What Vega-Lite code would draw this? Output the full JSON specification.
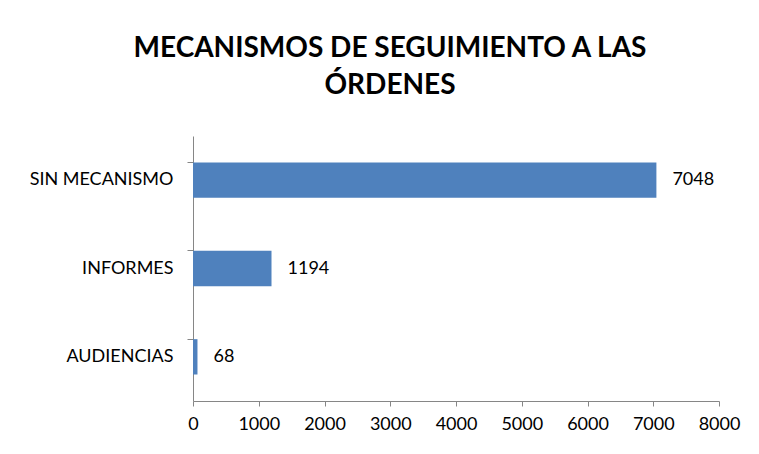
{
  "$schema": "https://vega.github.io/schema/vega-lite/v6.json",
  "autosize": "none",
  "width": 526,
  "height": 265,
  "padding": {"left": 193, "top": 136, "right": 40, "bottom": 53},
  "background": "white",
  "title": {
    "text": ["MECANISMOS DE SEGUIMIENTO A LAS", "ÓRDENES"],
    "font": "Lato",
    "fontSize": 28,
    "fontWeight": "bold",
    "color": "#000000",
    "anchor": "middle",
    "frame": "group",
    "dx": -66,
    "offset": 36,
    "lineHeight": 37
  },
  "data": {
    "values": [
      {"categoria": "SIN MECANISMO", "valor": 7048},
      {"categoria": "INFORMES", "valor": 1194},
      {"categoria": "AUDIENCIAS", "valor": 68}
    ]
  },
  "config": {
    "view": {"stroke": null},
    "font": "Lato"
  },
  "encoding": {
    "y": {
      "field": "categoria",
      "type": "nominal",
      "sort": ["SIN MECANISMO", "INFORMES", "AUDIENCIAS"],
      "scale": {"paddingInner": 0.6, "paddingOuter": 0.3},
      "axis": {
        "title": null,
        "domainColor": "#868686",
        "tickColor": "#868686",
        "tickSize": 6,
        "bandPosition": 0,
        "labelFont": "Lato",
        "labelFontSize": 18,
        "labelColor": "#000000",
        "labelPadding": 14,
        "labelBaseline": "middle"
      }
    },
    "x": {
      "field": "valor",
      "type": "quantitative",
      "scale": {"domain": [0, 8000], "nice": false},
      "axis": {
        "title": null,
        "values": [0, 1000, 2000, 3000, 4000, 5000, 6000, 7000, 8000],
        "format": "d",
        "grid": false,
        "domainColor": "#868686",
        "tickColor": "#868686",
        "tickSize": 5,
        "labelFont": "Lato",
        "labelFontSize": 18,
        "labelColor": "#000000",
        "labelPadding": 9,
        "labelFlush": false
      }
    }
  },
  "layer": [
    {
      "mark": {"type": "bar", "color": "#4F81BD"}
    },
    {
      "mark": {"type": "text", "align": "left", "dx": 16, "fontSize": 18, "font": "Lato", "color": "#000000"},
      "encoding": {"text": {"field": "valor", "type": "quantitative", "format": "d"}}
    }
  ]
}
